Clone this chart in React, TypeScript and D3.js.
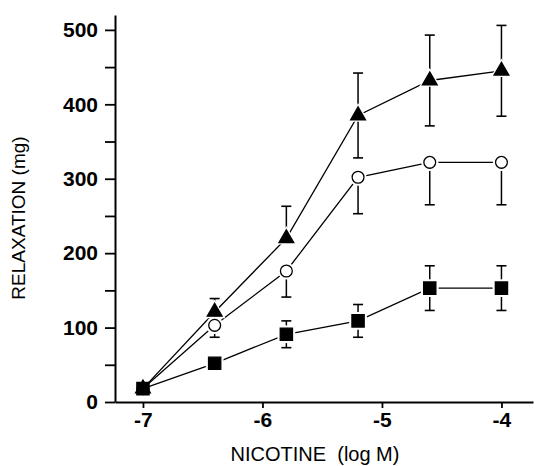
import { useEffect, useRef } from "react";
import * as d3 from "d3";

const DOSES = [-7, -6.4, -5.8, -5.2, -4.6, -4.0];

const TRI_MEAN = [18, 121, 220, 385, 432, 445];
const TRI_SE = [0, 18, 43, 57, 61, 61];
const TRI_UP = [false, true, true, true, true, true];
const TRI_DOWN = [false, false, false, true, true, true];

const CIRC_MEAN = [18, 103, 176, 302, 322, 322];
const CIRC_SE = [0, 16, 35, 49, 57, 57];
const CIRC_UP = [false, false, false, false, false, false];
const CIRC_DOWN = [false, true, true, true, true, true];

const SQ_MEAN = [18, 52, 91, 109, 153, 153];
const SQ_SE = [0, 6, 18, 22, 30, 30];
const SQ_UP = [false, true, true, true, true, true];
const SQ_DOWN = [false, false, true, true, true, true];

const X_TICKS = [-7, -6, -5, -4];
const Y_TICKS = [0, 50, 100, 150, 200, 250, 300, 350, 400, 450, 500];

const SERIES = [
  { name: "tri", mean: TRI_MEAN, se: TRI_SE, up: TRI_UP, down: TRI_DOWN, symbol: d3.symbolTriangle, size: 95, open: false },
  { name: "circ", mean: CIRC_MEAN, se: CIRC_SE, up: CIRC_UP, down: CIRC_DOWN, symbol: d3.symbolCircle, size: 110, open: true },
  { name: "sq", mean: SQ_MEAN, se: SQ_SE, up: SQ_UP, down: SQ_DOWN, symbol: d3.symbolSquare, size: 150, open: false },
];

export default function App() {
  const svgRef = useRef<SVGSVGElement | null>(null);

  useEffect(() => {
    if (!svgRef.current) return;
    const W = 534;
    const H = 466;
    const svg = d3.select(svgRef.current);
    svg.selectAll("*").remove();
    svg.attr("width", W).attr("height", H);

    const x = d3.scaleLinear().domain([-7.234, -3.736]).range([115, 533]);
    const y = d3.scaleLinear().domain([0, 520]).range([402, 15]);
    const font = "'Liberation Sans', Arial, sans-serif";

    // Axes
    svg.append("g").attr("transform", `translate(0,${y(0)})`)
      .call(d3.axisBottom(x).tickValues(X_TICKS).tickSize(6).tickSizeOuter(0).tickPadding(4)
        .tickFormat((d) => `-${Math.abs(+d)}`))
      .call(ax => ax.select(".domain").attr("stroke", "#000").attr("stroke-width", 2))
      .call(ax => ax.selectAll("line").attr("stroke", "#000").attr("stroke-width", 1.8))
      .call(ax => ax.selectAll("text").attr("font-size", 21).attr("font-weight", 700)
        .attr("font-family", font).attr("fill", "#000"));

    svg.append("g").attr("transform", `translate(${x.range()[0]},0)`)
      .call(d3.axisLeft(y).tickValues(Y_TICKS).tickSize(10).tickSizeOuter(0).tickPadding(7)
        .tickFormat((d) => (+d % 100 === 0 ? `${d}` : "")))
      .call(ax => ax.select(".domain").attr("stroke", "#000").attr("stroke-width", 2))
      .call(ax => ax.selectAll("line").attr("stroke", "#000").attr("stroke-width", 1.8))
      .call(ax => ax.selectAll("text").attr("font-size", 21).attr("font-weight", 700)
        .attr("font-family", font).attr("fill", "#000"));

    // Lines
    const line = d3.line<number>().x((_, i) => x(DOSES[i])).y((d) => y(d));
    SERIES.forEach((s) => {
      svg.append("path").datum(s.mean).attr("d", line)
        .attr("fill", "none").attr("stroke", "#000").attr("stroke-width", 1.3);
    });

    // Error bars
    SERIES.forEach((s) => {
      s.mean.forEach((m, i) => {
        const cx = x(DOSES[i]);
        const ends: number[] = [];
        if (s.up[i]) ends.push(m + s.se[i]);
        if (s.down[i]) ends.push(m - s.se[i]);
        ends.forEach((e) => {
          svg.append("line").attr("x1", cx).attr("x2", cx).attr("y1", y(m)).attr("y2", y(e))
            .attr("stroke", "#000").attr("stroke-width", 1.5);
          svg.append("line").attr("x1", cx - 5).attr("x2", cx + 5).attr("y1", y(e)).attr("y2", y(e))
            .attr("stroke", "#000").attr("stroke-width", 1.6);
        });
      });
    });

    // Halos then markers
    SERIES.forEach((s) => {
      s.mean.forEach((m, i) => {
        if (i === 0) return;
        svg.append("path")
          .attr("d", d3.symbol().type(s.symbol).size(s.size * 2.1)())
          .attr("transform", `translate(${x(DOSES[i])},${y(m)})`)
          .attr("fill", "#fff");
      });
    });
    SERIES.forEach((s) => {
      s.mean.forEach((m, i) => {
        svg.append("path")
          .attr("d", d3.symbol().type(s.symbol).size(s.size)())
          .attr("transform", `translate(${x(DOSES[i])},${y(m)})`)
          .attr("fill", s.open && i > 0 ? "#fff" : "#000")
          .attr("stroke", "#000").attr("stroke-width", 1.3);
      });
    });

    // Axis titles
    svg.append("text")
      .attr("x", 315).attr("y", 461)
      .attr("text-anchor", "middle").attr("font-size", 20).attr("font-family", font)
      .attr("fill", "#000").attr("xml:space", "preserve")
      .text("NICOTINE  (log M)");

    svg.append("text")
      .attr("transform", "rotate(-90)")
      .attr("x", -218).attr("y", 25)
      .attr("text-anchor", "middle").attr("font-size", 19).attr("font-family", font)
      .attr("fill", "#000")
      .text("RELAXATION (mg)");
  }, []);

  return (
    <div style={{ position: "absolute", left: 0, top: 0, background: "#fff" }}>
      <svg ref={svgRef} style={{ display: "block" }} />
    </div>
  );
}
